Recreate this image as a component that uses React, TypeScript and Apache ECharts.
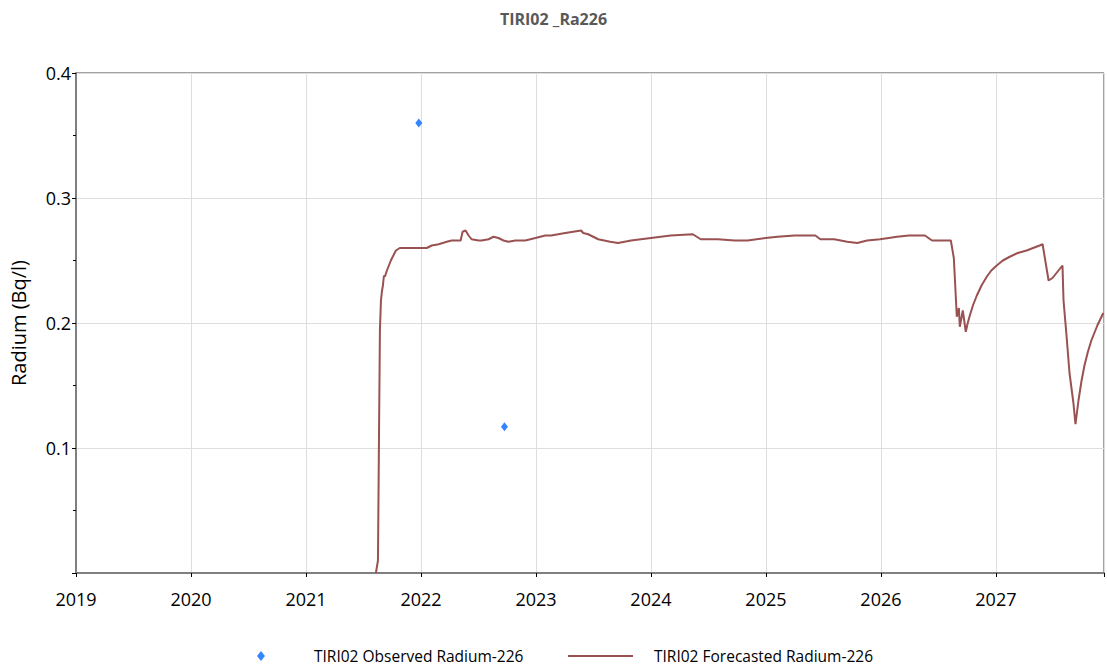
import React, { useEffect, useRef } from "react";
import * as echarts from "echarts";

const TITLE = "TIRI02 _Ra226";
const Y_NAME = "Radium (Bq/l)";
const OBS_NAME = "TIRI02 Observed Radium-226";
const FC_NAME = "TIRI02 Forecasted Radium-226";

const yearTicks = [2019, 2020, 2021, 2022, 2023, 2024, 2025, 2026, 2027];
const yTicks = [0.1, 0.2, 0.3, 0.4];

const observedYears = [2021.981, 2022.726];
const observedValues = [0.36, 0.117];

const forecastYears = [
  2021.608, 2021.626, 2021.634, 2021.643, 2021.652, 2021.66, 2021.669, 2021.678, 2021.686, 2021.704,
  2021.721, 2021.738, 2021.782, 2021.816, 2022.05, 2022.094, 2022.154, 2022.224, 2022.267, 2022.345,
  2022.362, 2022.388, 2022.414, 2022.44, 2022.501, 2022.527, 2022.588, 2022.631, 2022.674, 2022.718,
  2022.761, 2022.821, 2022.908, 2022.995, 2023.081, 2023.133, 2023.255, 2023.393, 2023.411, 2023.454,
  2023.541, 2023.645, 2023.714, 2023.827, 2024.0, 2024.173, 2024.364, 2024.433, 2024.581, 2024.728,
  2024.841, 2024.997, 2025.101, 2025.248, 2025.43, 2025.473, 2025.594, 2025.707, 2025.794, 2025.88,
  2025.993, 2026.14, 2026.244, 2026.383, 2026.444, 2026.513, 2026.608, 2026.634, 2026.66, 2026.678,
  2026.686, 2026.712, 2026.738, 2026.755, 2026.773, 2026.8, 2026.834, 2026.875, 2026.92, 2026.96,
  2027.007, 2027.06, 2027.12, 2027.19, 2027.267, 2027.38, 2027.406, 2027.458, 2027.492, 2027.579,
  2027.588, 2027.614, 2027.64, 2027.674, 2027.692, 2027.718, 2027.745, 2027.77, 2027.8, 2027.83,
  2027.882, 2027.934,
];
const forecastValues = [
  0.0, 0.01, 0.098, 0.194, 0.218, 0.225, 0.23, 0.238, 0.237, 0.242,
  0.246, 0.25, 0.258, 0.26, 0.26, 0.262, 0.263, 0.265, 0.266, 0.266,
  0.273, 0.274, 0.27, 0.267, 0.266, 0.266, 0.267, 0.269, 0.268, 0.266,
  0.265, 0.266, 0.266, 0.268, 0.27, 0.27, 0.272, 0.274, 0.272, 0.271,
  0.267, 0.265, 0.264, 0.266, 0.268, 0.27, 0.271, 0.267, 0.267, 0.266,
  0.266, 0.268, 0.269, 0.27, 0.27, 0.267, 0.267, 0.265, 0.264, 0.266,
  0.267, 0.269, 0.27, 0.27, 0.266, 0.266, 0.266, 0.252, 0.205, 0.212,
  0.197, 0.21, 0.193, 0.2, 0.206, 0.214, 0.222, 0.23, 0.237, 0.242,
  0.246, 0.25, 0.253, 0.256, 0.258, 0.262, 0.263, 0.234, 0.236, 0.246,
  0.218, 0.19, 0.16, 0.136, 0.119, 0.138, 0.154, 0.166, 0.177, 0.186,
  0.198, 0.208,
];

const FONT = "'Open Sans', sans-serif";
const LINE_COLOR = "#9a5151";

export default function App() {
  const ref = useRef<HTMLDivElement>(null);
  useEffect(() => {
    if (!ref.current) return;
    const chart = echarts.init(ref.current, undefined, { renderer: "svg" });
    const fc = forecastYears.map((x, i) => [x, forecastValues[i]]);
    const obs = observedYears.map((x, i) => [x, observedValues[i]]);
    chart.setOption({
      animation: false,
      backgroundColor: "#ffffff",
      title: {
        text: TITLE,
        left: "center",
        top: 6,
        textStyle: { fontFamily: FONT, fontSize: 16, fontWeight: "bold", color: "#595959" },
      },
      grid: {
        left: 76,
        right: 0,
        top: 73,
        bottom: 98,
        containLabel: false,
        show: true,
        borderColor: "#444444",
        borderWidth: 1,
        backgroundColor: "transparent",
      },
      legend: [
        {
          data: [{ name: OBS_NAME, icon: "diamond" }],
          left: 252,
          top: 643,
          itemWidth: 8,
          itemHeight: 10,
          textStyle: { fontFamily: FONT, fontSize: 15.5, color: "#000", padding: [0, 0, 0, 44] },
        },
        {
          data: [{ name: FC_NAME, icon: "rect", itemStyle: { color: LINE_COLOR } }],
          left: 563,
          top: 643,
          itemWidth: 65,
          itemHeight: 2,
          textStyle: { fontFamily: FONT, fontSize: 15.5, color: "#000", padding: [0, 0, 0, 16] },
        },
      ],
      xAxis: {
        type: "value",
        min: yearTicks[0],
        max: 2027.94,
        interval: 1,
        axisLine: { show: true, lineStyle: { color: "#7f7f7f", width: 2 } },
        axisTick: { show: true, length: 4, lineStyle: { color: "#000" } },
        axisLabel: {
          fontFamily: FONT,
          fontSize: 18,
          color: "#000",
          margin: 17,
          formatter: (v: number) =>
            yearTicks.includes(Math.round(v)) && Math.abs(v - Math.round(v)) < 1e-6 ? String(Math.round(v)) : "",
        },
        splitLine: { show: true, lineStyle: { color: "#dedede", width: 1 } },
      },
      yAxis: {
        type: "value",
        min: 0,
        max: yTicks[yTicks.length - 1],
        interval: 0.1,
        name: Y_NAME,
        nameLocation: "middle",
        nameRotate: 90,
        nameGap: 48,
        nameTextStyle: { fontFamily: FONT, fontSize: 20, color: "#000" },
        axisLine: { show: true, lineStyle: { color: "#7f7f7f", width: 2 } },
        axisTick: { show: true, length: 4, lineStyle: { color: "#000" } },
        minorTick: { show: true, splitNumber: 2, length: 3, lineStyle: { color: "#000" } },
        axisLabel: {
          fontFamily: FONT,
          fontSize: 18,
          color: "#000",
          margin: 5,
          formatter: (v: number) => (v < 1e-9 ? "" : v.toFixed(1)),
        },
        splitLine: { show: true, lineStyle: { color: "#dedede", width: 1 } },
      },
      series: [
        {
          name: OBS_NAME,
          type: "scatter",
          data: obs,
          symbol: "diamond",
          symbolSize: [7, 9],
          itemStyle: { color: "#0066ff" },
          z: 3,
        },
        {
          name: FC_NAME,
          type: "line",
          data: fc,
          symbol: "none",
          showSymbol: false,
          lineStyle: { color: LINE_COLOR, width: 2 },
          itemStyle: { color: LINE_COLOR },
          z: 2,
        },
      ],
    });
    return () => chart.dispose();
  }, []);
  return <div ref={ref} style={{ width: 1107, height: 671, position: "absolute", left: 0, top: 0 }} />;
}
